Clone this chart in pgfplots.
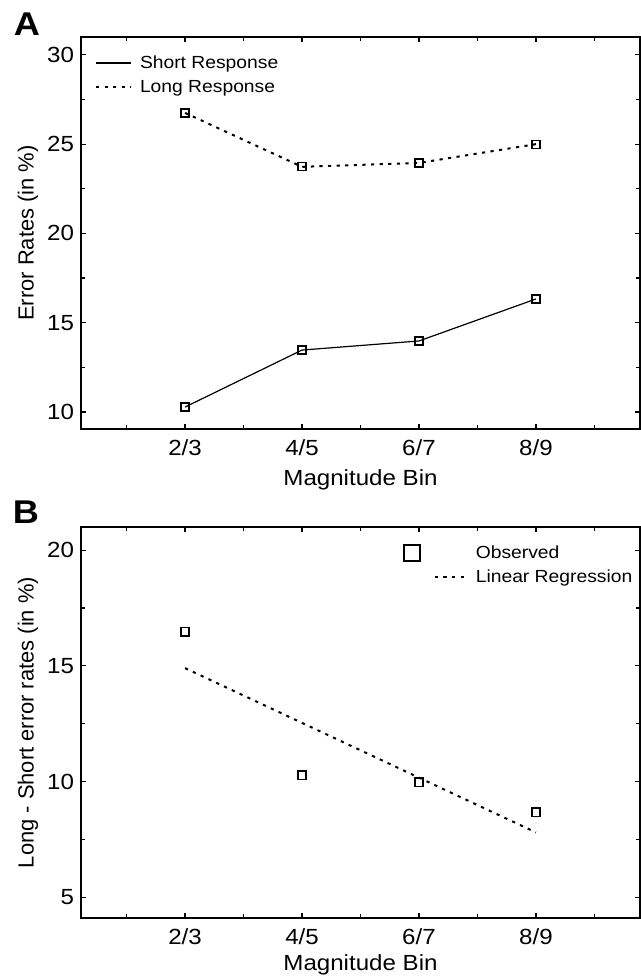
\documentclass[border=0pt]{standalone}
\usepackage{fontspec}
\setmainfont{Liberation Sans}[FakeStretch=1.1]
\newfontfamily\plainfont{Liberation Sans}
\usepackage{pgfplots}
\pgfplotsset{compat=1.18}

\tikzset{dotline/.style={black, line width=1bp, dash pattern=on 1.6bp off 2.7bp}}

\pgfplotsset{
  panel/.style={
    scale only axis,
    width=279.5bp,
    xmin=0.11, xmax=4.89,
    xtick={1,2,3,4},
    xticklabels={2/3,4/5,6/7,8/9},
    minor xtick={0.5,1.5,2.5,3.5,4.5},
    minor y tick num=1,
    tick align=inside,
    major tick length=2.5bp,
    minor tick length=1.8bp,
    axis line style={line width=0.9bp},
    every tick/.style={black, line width=0.6bp},
    tick label style={font=\fontsize{11}{13}\selectfont},
    xticklabel style={yshift=-2bp},
    xlabel style={font=\fontsize{11}{13}\selectfont},
    every axis y label/.style={at={(rel axis cs:-0.095,0.5)}, anchor=center, rotate=90,
      font=\plainfont\fontsize{11}{13}\selectfont},
    /pgf/number format/assume math mode=true,
    xlabel={Magnitude Bin},
    legend cell align=left,
    legend style={draw=none, fill=none, inner sep=0pt, outer sep=0pt,
      font=\fontsize{8.8}{10}\selectfont, row sep=0bp, column sep=2bp,
      nodes={text height=7bp, text depth=2bp, inner ysep=1.5bp, inner xsep=2bp}},
  },
  obsleg/.style={legend image code/.code={\draw[line width=0.8bp] (-15.5bp,-4bp) rectangle (-7.5bp,4bp);}},
  regleg/.style={legend image code/.code={\draw[dotline] (0bp,0bp) -- (16bp,0bp);}},
  solidleg/.style={legend image code/.code={\draw[black, line width=0.6bp] (0bp,0bp) -- (17.5bp,0bp);}},
  longleg/.style={legend image code/.code={\draw[dotline] (0bp,0bp) -- (17.5bp,0bp);}},
}

\begin{document}
\begin{tikzpicture}
\useasboundingbox (0,0) rectangle (320.5bp,-489bp);

% panel A
\begin{axis}[panel,
  at={(40.5bp,-214.5bp)}, anchor=south west,
  height=196bp,
  ymin=9.05, ymax=31,
  ytick={10,15,20,25,30},
  ylabel={Error Rates (in \%)},
  legend style={at={(rel axis cs:0,1)}, anchor=north west, xshift=7bp, yshift=-7bp},
]
  \addplot[black, line width=0.6bp, mark=square, mark size=2bp,
    mark options={solid, line width=0.6bp}, solidleg]
    coordinates {(1,10.28) (2,13.47) (3,13.98) (4,16.33)};
  \addlegendentry{Short Response}
  \addplot[dotline, mark=square, mark size=2bp,
    mark options={solid, line width=0.6bp}, longleg]
    coordinates {(1,26.75) (2,23.73) (3,23.95) (4,25.0)};
  \addlegendentry{Long Response}
\end{axis}

% panel B
\begin{axis}[panel,
  at={(40.5bp,-459bp)}, anchor=south west,
  height=195.5bp,
  ymin=4.1, ymax=21,
  ytick={5,10,15,20},
  ylabel={Long - Short error rates (in \%)},
  xlabel style={yshift=2bp},
  legend style={at={(rel axis cs:0,1)}, anchor=north west, xshift=161bp, yshift=-7bp},
]
  \addplot[black, only marks, mark=square, mark size=2.1bp,
    mark options={solid, line width=0.8bp}, obsleg]
    coordinates {(1,16.47) (2,10.26) (3,9.97) (4,8.67)};
  \addlegendentry{Observed}
  \addplot[dotline, regleg]
    coordinates {(1,14.9) (4,7.8)};
  \addlegendentry{Linear Regression}
\end{axis}

\node[font=\fontsize{16.5}{20}\selectfont\bfseries] at (13.5bp,-12bp) {A};
\node[font=\fontsize{16.5}{20}\selectfont\bfseries] at (13bp,-256bp) {B};
\end{tikzpicture}
\end{document}
